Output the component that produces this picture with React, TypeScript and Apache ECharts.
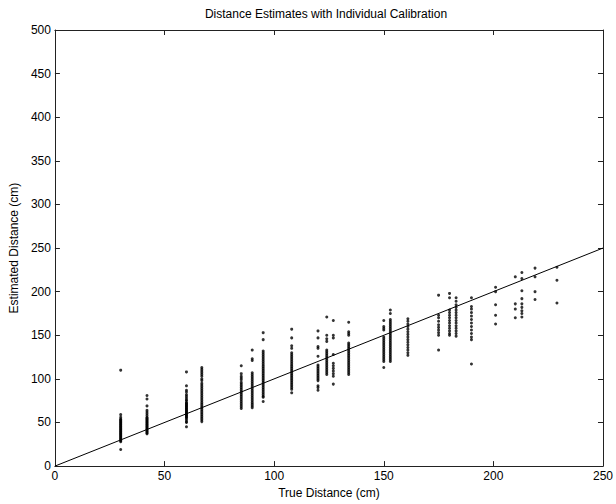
import React, { useEffect, useRef } from "react";
import * as echarts from "echarts";

const trueDistances = [30, 42, 60, 67, 85, 90, 95, 108, 120, 124, 127, 134, 150, 153, 161, 175, 180, 183, 190, 201, 210, 213, 219, 229];

const est30 = [110, 59, 56, 54, 53, 52, 51, 50, 49, 48, 47, 46, 45, 44, 43, 42, 41, 40, 39, 38, 37, 36, 35, 34, 33, 32, 31, 30, 29, 28, 19];
const est42 = [81, 77, 69, 64, 62, 60, 58, 56, 55, 54, 53, 52, 51, 50, 49, 48, 47, 46, 45, 44, 43, 42, 41, 40, 39, 38, 37];
const est60 = [108, 92, 87, 85, 82, 80, 78, 76, 75, 73, 72, 71, 70, 69, 68, 67, 66, 65, 64, 63, 62, 61, 60, 59, 58, 57, 56, 55, 53, 51, 50, 45];
const est67 = [113, 111, 109, 107, 105, 103, 100, 98, 95, 93, 91, 89, 87, 85, 83, 81, 79, 77, 75, 73, 71, 69, 67, 65, 63, 61, 59, 57, 55, 53, 51];
const est85 = [115, 106, 103, 101, 99, 96, 94, 92, 90, 88, 86, 84, 82, 80, 78, 76, 74, 72, 70, 68, 66];
const est90 = [133, 123, 121, 107, 105, 103, 101, 99, 97, 95, 93, 91, 89, 87, 85, 83, 81, 79, 77, 75, 73, 71, 69, 67];
const est95 = [153, 145, 132, 130, 128, 126, 124, 122, 120, 118, 116, 114, 112, 110, 108, 106, 104, 102, 100, 98, 96, 94, 92, 90, 88, 86, 84, 82, 80, 79, 74];
const est108 = [157, 147, 138, 135, 130, 128, 126, 124, 122, 120, 118, 116, 114, 112, 110, 108, 106, 104, 102, 100, 98, 96, 94, 92, 90, 88, 84];
const est120 = [155, 147, 137, 135, 126, 116, 114, 112, 110, 108, 106, 104, 102, 100, 98, 92, 90, 87];
const est124 = [171, 150, 146, 143, 133, 131, 129, 127, 125, 123, 121, 119, 117, 115, 113, 111, 109, 107, 105];
const est127 = [167, 150, 147, 128, 118, 115, 112, 109, 106, 103, 94];
const est134 = [165, 154, 152, 150, 141, 139, 137, 135, 133, 131, 129, 127, 125, 123, 121, 119, 117, 115, 113, 111, 109, 107, 105];
const est150 = [167, 160, 158, 156, 148, 146, 144, 142, 140, 138, 136, 134, 132, 130, 128, 126, 124, 122, 120, 113];
const est153 = [179, 175, 168, 166, 164, 162, 160, 158, 156, 154, 152, 150, 148, 146, 144, 142, 140, 138, 136, 134, 132, 130, 128, 126, 124, 122, 120];
const est161 = [169, 166, 163, 160, 157, 154, 151, 148, 145, 142, 139, 136, 133, 130, 127];
const est175 = [196, 173, 170, 166, 162, 159, 156, 153, 150, 133];
const est180 = [198, 193, 179, 176, 173, 170, 167, 164, 161, 158, 155, 152, 150];
const est183 = [193, 189, 185, 182, 179, 176, 173, 170, 167, 164, 161, 158, 155, 152, 149];
const est190 = [193, 183, 180, 176, 172, 168, 164, 160, 156, 152, 148, 145, 117];
const est201 = [205, 200, 185, 173, 163];
const est210 = [217, 186, 180, 170];
const est213 = [222, 215, 201, 192, 186, 182, 178, 175, 171];
const est219 = [227, 217, 200, 191];
const est229 = [228, 213, 187];

const estimates = [est30, est42, est60, est67, est85, est90, est95, est108, est120, est124, est127, est134, est150, est153, est161, est175, est180, est183, est190, est201, est210, est213, est219, est229];

const idealLine = [[0, 0], [250, 250]];

const xTicks = { min: 0, max: 250, interval: 50 };
const yTicks = { min: 0, max: 500, interval: 50 };

const FONT = "Liberation Sans";
const titleText = "Distance Estimates with Individual Calibration";

export default function App() {
  const ref = useRef<HTMLDivElement>(null);
  useEffect(() => {
    if (!ref.current) return;
    const chart = echarts.init(ref.current, undefined, { renderer: "svg" });
    const points: number[][] = [];
    trueDistances.forEach((x, i) => {
      estimates[i].forEach((y) => points.push([x, y]));
    });
    const axisLine = { show: true, onZero: false, lineStyle: { color: "#222", width: 1 } };
    const tick = { show: true, inside: true, length: 5, lineStyle: { color: "#222" } };
    const label = { color: "#000", fontFamily: FONT, fontSize: 12 };
    chart.setOption({
      animation: false,
      backgroundColor: "#fff",
      graphic: [
        {
          type: "text",
          x: 326,
          y: 14,
          style: {
            text: titleText,
            fontFamily: FONT,
            fontSize: 12,
            fill: "#000",
            align: "center",
            verticalAlign: "middle",
          },
        },
      ],
      grid: { left: 47, right: 10, top: 30, bottom: 33, containLabel: false },
      xAxis: [
        {
          type: "value",
          position: "bottom",
          ...xTicks,
          name: "True Distance (cm)",
          nameLocation: "middle",
          nameGap: 20,
          nameTextStyle: { fontFamily: FONT, fontSize: 12, color: "#000" },
          axisLine,
          axisTick: tick,
          axisLabel: { ...label, margin: 4 },
          splitLine: { show: false },
        },
        {
          type: "value",
          position: "top",
          ...xTicks,
          axisLine,
          axisTick: tick,
          axisLabel: { show: false },
          splitLine: { show: false },
        },
      ],
      yAxis: [
        {
          type: "value",
          position: "left",
          ...yTicks,
          name: "Estimated Distance (cm)",
          nameLocation: "middle",
          nameGap: 29,
          nameTextStyle: { fontFamily: FONT, fontSize: 12, color: "#000" },
          axisLine,
          axisTick: tick,
          axisLabel: { ...label, margin: 4 },
          splitLine: { show: false },
        },
        {
          type: "value",
          position: "right",
          ...yTicks,
          axisLine,
          axisTick: tick,
          axisLabel: { show: false },
          splitLine: { show: false },
        },
      ],
      series: [
        {
          type: "scatter",
          data: points,
          symbol: "circle",
          symbolSize: 3,
          itemStyle: { color: "#000" },
          silent: true,
        },
        {
          type: "line",
          data: idealLine,
          symbol: "none",
          lineStyle: { color: "#000", width: 1 },
          silent: true,
        },
      ],
    });
    return () => chart.dispose();
  }, []);
  return <div ref={ref} style={{ position: "absolute", left: 0, top: 0, width: 616, height: 504 }} />;
}
